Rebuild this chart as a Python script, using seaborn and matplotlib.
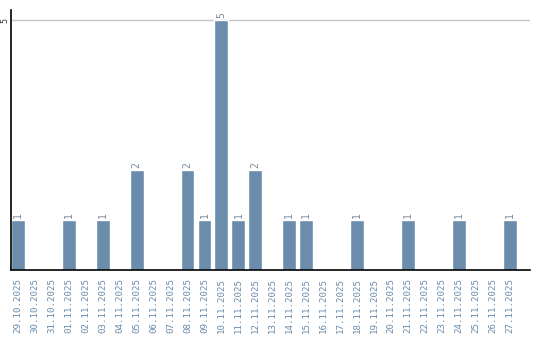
import matplotlib
matplotlib.use("Agg")
import matplotlib.pyplot as plt
import seaborn as sns
import pandas as pd

dates = ["29.10.2025", "30.10.2025", "31.10.2025", "01.11.2025", "02.11.2025",
         "03.11.2025", "04.11.2025", "05.11.2025", "06.11.2025", "07.11.2025",
         "08.11.2025", "09.11.2025", "10.11.2025", "11.11.2025", "12.11.2025",
         "13.11.2025", "14.11.2025", "15.11.2025", "16.11.2025", "17.11.2025",
         "18.11.2025", "19.11.2025", "20.11.2025", "21.11.2025", "22.11.2025",
         "23.11.2025", "24.11.2025", "25.11.2025", "26.11.2025", "27.11.2025"]
counts = [1, 0, 0, 1, 0, 1, 0, 2, 0, 0, 2, 1, 5, 1, 2,
          0, 1, 1, 0, 0, 1, 0, 0, 1, 0, 0, 1, 0, 0, 1]

df = pd.DataFrame({"date": dates, "count": counts})

bar_col = "#6b8cab"
sns.set_style("white")

fig = plt.figure(figsize=(5.4, 3.4), dpi=100)
ax = fig.add_axes([11/540, 70/340, 519/540, 260/340])

sns.barplot(data=df, x="date", y="count", color=bar_col, saturation=1,
            width=0.82, ax=ax)

ax.set_xlim(-0.41, 30.2)
ax.set_ylim(0, 5.2)
ax.set_xlabel("")
ax.set_ylabel("")
ax.set_yticks([5])
ax.set_yticklabels(["5"], rotation=90, va="center", fontsize=6,
                   family="DejaVu Sans Mono", color="#333333")
ax.tick_params(axis="y", length=0, pad=1)
ax.tick_params(axis="x", length=0, pad=6)
ax.set_xticks(range(len(dates)))
ax.set_xticklabels(dates, rotation=90, fontsize=6.6, family="DejaVu Sans Mono",
                   color=bar_col)
ax.axhline(5, color="#c8c8c8", lw=1, zorder=0)

for i, v in enumerate(counts):
    if v > 0:
        ax.text(i, v + 0.04, str(v), rotation=90, ha="center", va="bottom",
                fontsize=7, family="DejaVu Sans Mono", color="#7a8a9a")

for s in ["top", "right"]:
    ax.spines[s].set_visible(False)
ax.spines["left"].set_linewidth(1.2)
ax.spines["bottom"].set_linewidth(1.2)
ax.spines["left"].set_color("black")
ax.spines["bottom"].set_color("black")

fig.savefig("out.png", dpi=100)
